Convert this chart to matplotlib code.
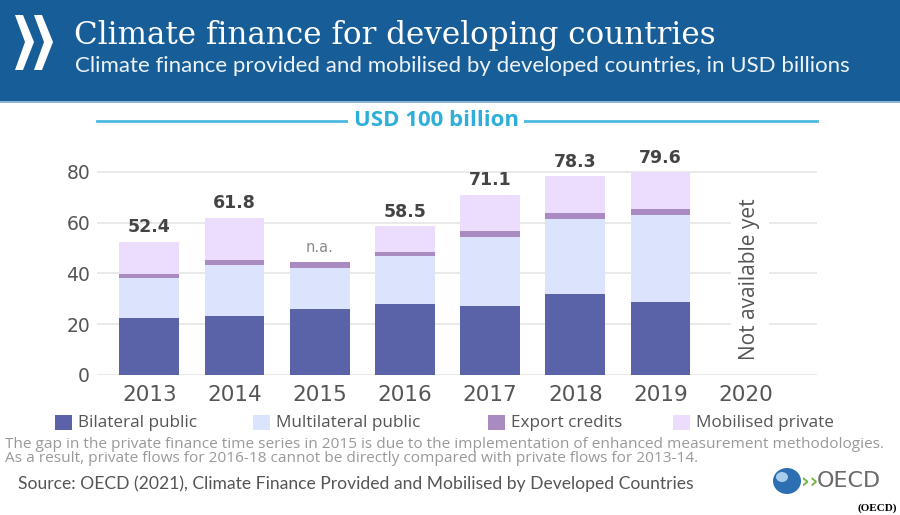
import matplotlib
matplotlib.use("Agg")
import matplotlib.pyplot as plt
from matplotlib.patches import Rectangle, Polygon, Ellipse
import numpy as np

years = ['2013', '2014', '2015', '2016', '2017', '2018', '2019', '2020']
bilateral = [22.5, 23.1, 25.9, 28.0, 27.0, 32.0, 28.7]
multilateral = [15.5, 20.4, 16.2, 18.9, 27.4, 29.6, 34.1]
export_credits = [1.6, 1.6, 2.5, 1.5, 2.1, 2.2, 2.6]
mobilised_private = [12.8, 16.7, 0.0, 10.1, 14.5, 14.5, 14.4]
total_labels = ['52.4', '61.8', 'n.a.', '58.5', '71.1', '78.3', '79.6']
y_ticks = [0, 20, 40, 60, 80]
series_names = ['Bilateral public', 'Multilateral public', 'Export credits', 'Mobilised private']
colors = ['#5a63a8', '#dbe3fd', '#a98bc2', '#ecdcfd']
goal_value = 100
goal_label = 'USD 100 billion'

W, H = 900, 515
fig = plt.figure(figsize=(W / 100, H / 100), dpi=100)


def fx(px):
    return px / W


def fy(py):
    return 1 - py / H


# Header band
fig.patches.append(Rectangle((0, fy(101)), 1, 101 / H, transform=fig.transFigure,
                             facecolor='#175e98', edgecolor='none', zorder=0))
fig.patches.append(Rectangle((0, fy(103)), 1, 2 / H, transform=fig.transFigure,
                             facecolor='#8fb4d4', edgecolor='none', zorder=0))
# OECD chevrons in header
for x0 in (15, 34):
    pts = [(x0, 15), (x0 + 8, 15), (x0 + 19, 42), (x0 + 8, 70), (x0, 70), (x0 + 10, 42)]
    fig.patches.append(Polygon([(fx(a), fy(b)) for a, b in pts], closed=True,
                               transform=fig.transFigure, facecolor='white', edgecolor='none'))

fig.text(fx(74), fy(44), 'Climate finance for developing countries', family='DejaVu Serif',
         size=22.3, color='white', va='baseline', ha='left')
fig.text(fx(75), fy(72), 'Climate finance provided and mobilised by developed countries, in USD billions',
         family='Lato', size=16, color='#eef3f8', va='baseline', ha='left')

# Axes
ax = fig.add_axes([fx(97), fy(375), 720 / W, 254 / H])
x = np.arange(len(bilateral))
width = 0.70
b0 = np.zeros(len(x))
for vals, c in zip([bilateral, multilateral, export_credits, mobilised_private], colors):
    ax.bar(x, vals, width, bottom=b0, color=c, edgecolor='none', zorder=3)
    b0 = b0 + np.array(vals)

for xi, top, lab in zip(x, b0, total_labels):
    if lab == 'n.a.':
        ax.annotate(lab, (xi, top), xytext=(0, 5), textcoords='offset points', ha='center',
                    va='bottom', size=10.5, color='#8a8a8a', family='DejaVu Sans')
    else:
        ax.annotate(lab, (xi, top), xytext=(0, 4), textcoords='offset points', ha='center',
                    va='bottom', size=12.5, color='#444444', weight='bold', family='DejaVu Sans')

for t in y_ticks:
    ax.axhline(t, color='#e3e3e3', lw=1.1, zorder=1)

ax.set_xlim(-0.614, 7.837)
ax.set_ylim(0, 100)
ax.set_yticks(y_ticks)
ax.set_yticklabels([str(t) for t in y_ticks])
ax.set_xticks(np.arange(len(years)))
ax.set_xticklabels(years)
ax.tick_params(axis='y', length=0, pad=5, labelsize=13.5, labelcolor='#555555')
ax.tick_params(axis='x', length=0, pad=7, labelsize=15.5, labelcolor='#555555')
for s in ax.spines.values():
    s.set_visible(False)
ax.set_facecolor('none')

# Goal line
ax.axhline(goal_value, color='#4cb9de', lw=2, zorder=2, clip_on=False)
ax.text(3.37, goal_value, goal_label, ha='center', va='center', size=16, weight='bold',
        color='#2eafd9', family='Open Sans', zorder=4,
        bbox=dict(facecolor='white', edgecolor='none', pad=4), clip_on=False)

ax.text(7.05, 37.6, 'Not available yet', rotation=90, ha='center', va='center', size=15,
        color='#555555', family='Open Sans', zorder=4,
        bbox=dict(facecolor='white', edgecolor='none', pad=6))

# Legend
leg_sq = [55, 253, 488, 673]
for px, name, c in zip(leg_sq, series_names, colors):
    fig.patches.append(Rectangle((fx(px), fy(430)), 17 / W, 15 / H, transform=fig.transFigure,
                                 facecolor=c, edgecolor='none'))
    fig.text(fx(px + 23), fy(423), name, family='Open Sans', size=12.3, color='#555555',
             va='center', ha='left')

fig.text(fx(5), fy(444), 'The gap in the private finance time series in 2015 is due to the implementation of enhanced measurement methodologies.',
         family='Open Sans', size=11.1, color='#999999', va='center', ha='left')
fig.text(fx(5), fy(459), 'As a result, private flows for 2016-18 cannot be directly compared with private flows for 2013-14.',
         family='Open Sans', size=11.1, color='#999999', va='center', ha='left')
fig.text(fx(18), fy(484), 'Source: OECD (2021), Climate Finance Provided and Mobilised by Developed Countries',
         family='Lato', size=12.6, color='#555555', va='center', ha='left')

# OECD logo
fig.patches.append(Ellipse((fx(787), fy(481)), 28 / W, 26 / H, transform=fig.transFigure,
                           facecolor='#2c6fb3', edgecolor='none'))
fig.patches.append(Ellipse((fx(782), fy(477)), 12 / W, 10 / H, transform=fig.transFigure,
                           facecolor='#a8cdea', edgecolor='none'))
fig.text(fx(801), fy(481), '\u203a\u203a', family='DejaVu Sans', size=15, color='#7ab648',
         va='center', ha='left', weight='bold')
fig.text(fx(817), fy(481), 'OECD', family='DejaVu Sans', size=16, color='#6a6a6a',
         va='center', ha='left')
fig.text(fx(897), fy(508), '(OECD)', family='Liberation Serif', size=8, color='black',
         weight='bold', va='center', ha='right')

fig.savefig('out.png', dpi=100)
